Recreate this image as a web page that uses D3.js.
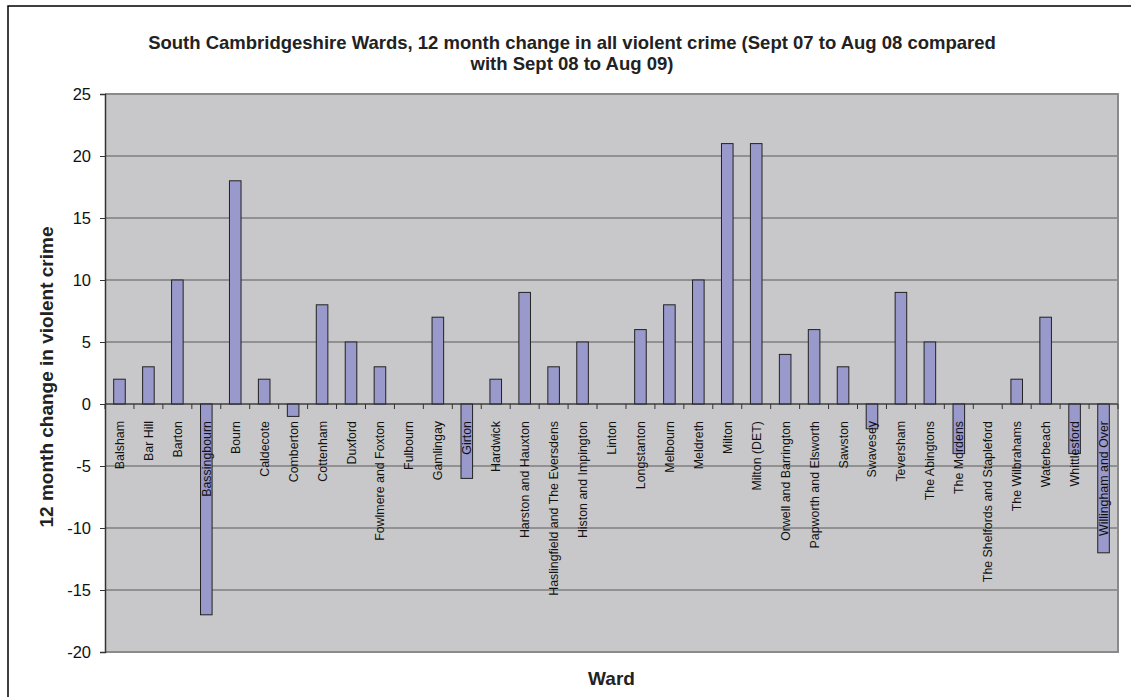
<!DOCTYPE html>
<html><head><meta charset="utf-8">
<script src="https://cdn.jsdelivr.net/npm/d3@7"></script>
<style>body{margin:0;background:#fff}svg{display:block}text{font-family:Arial,"Liberation Sans",sans-serif}</style>
</head><body><svg id="c" width="1131" height="697"></svg>
<script>
const wards = ["Balsham","Bar Hill","Barton","Bassingbourn","Bourn","Caldecote","Comberton","Cottenham","Duxford","Fowlmere and Foxton","Fulbourn","Gamlingay","Girton","Hardwick","Harston and Hauxton","Haslingfield and The Eversdens","Histon and Impington","Linton","Longstanton","Melbourn","Meldreth","Milton","Milton (DET)","Orwell and Barrington","Papworth and Elsworth","Sawston","Swavesey","Teversham","The Abingtons","The Mordens","The Shelfords and Stapleford","The Wilbrahams","Waterbeach","Whittlesford","Willingham and Over"];
const changes = [2,3,10,-17,18,2,-1,8,5,3,0,7,-6,2,9,3,5,0,6,8,10,21,21,4,6,3,-2,9,5,-4,0,2,7,-4,-12];
const yTicks = [-20,-15,-10,-5,0,5,10,15,20,25];
const titleLines = ["South Cambridgeshire Wards, 12 month change in all violent crime (Sept 07 to Aug 08 compared","with Sept 08 to Aug 09)"];
const yTitle = "12 month change in violent crime";
const xTitle = "Ward";

const svg = d3.select("#c");
const L=105,R=1118,T=94,B=652;
// outer frame
svg.append("rect").attr("x",8).attr("y",6).attr("width",1140).attr("height",720).attr("fill","#fff").attr("stroke","#000").attr("stroke-width",1.5);

const x = d3.scaleBand().domain(wards).range([L,R]).paddingInner(0.6).paddingOuter(0.3);
const y = d3.scaleLinear().domain([-20,25]).range([B,T]);

svg.append("rect").attr("x",L).attr("y",T).attr("width",R-L).attr("height",B-T).attr("fill","#c8c8ca");
// gridlines
svg.append("g").selectAll("line").data(yTicks.filter(d=>d!==-20&&d!==25)).join("line")
  .attr("x1",L).attr("x2",R).attr("y1",d=>y(d)).attr("y2",d=>y(d)).attr("stroke","#5a5a5a").attr("stroke-width",1);
// plot border top/right/bottom
svg.append("path").attr("d",`M${L},${T}H${R}V${B}H${L}`).attr("fill","none").attr("stroke","#8a8a8a").attr("stroke-width",2);

// bars
svg.append("g").selectAll("rect").data(wards).join("rect")
  .attr("x",d=>x(d)).attr("width",x.bandwidth())
  .attr("y",(d,i)=>y(Math.max(0,changes[i]))).attr("height",(d,i)=>Math.abs(y(changes[i])-y(0)))
  .attr("fill","#9999cc").attr("stroke","#222").attr("stroke-width",1);

// y axis
const ya = d3.axisLeft(y).tickValues(yTicks).tickSize(5).tickPadding(9).tickFormat(d=>String(d));
const yg = svg.append("g").attr("transform",`translate(${L},0)`).call(ya);
yg.select(".domain").attr("stroke","#333").attr("stroke-width",1.5);
yg.selectAll(".tick line").attr("stroke","#333");
yg.selectAll(".tick text").attr("font-size",16.5).attr("fill","#111").attr("font-family","Arial,'Liberation Sans',sans-serif");

// x axis at zero
const xg = svg.append("g").attr("transform",`translate(0,${y(0)})`);
xg.append("line").attr("x1",L).attr("x2",R).attr("stroke","#333").attr("stroke-width",1.2);
const bounds = d3.range(wards.length+1).map(i=>L+i*(R-L)/wards.length);
xg.selectAll("line.t").data(bounds).join("line").attr("class","t")
  .attr("x1",d=>d).attr("x2",d=>d).attr("y1",0).attr("y2",5).attr("stroke","#333");
xg.selectAll("text").data(wards).join("text")
  .attr("transform",d=>`translate(${x(d)+x.bandwidth()/2+4.5},17) rotate(-90)`)
  .attr("text-anchor","end").attr("font-size",12.4).attr("fill","#111").text(d=>d);

// titles
svg.append("text").attr("x",572).attr("text-anchor","middle").attr("font-weight","bold").attr("font-size",18.5).attr("fill","#222")
  .selectAll("tspan").data(titleLines).join("tspan").attr("x",572).attr("y",(d,i)=>49+i*21).text(d=>d);
svg.append("text").attr("transform",`translate(53,${377}) rotate(-90)`).attr("text-anchor","middle")
  .attr("font-weight","bold").attr("font-size",19).attr("fill","#222").text(yTitle);
svg.append("text").attr("x",(L+R)/2).attr("y",685).attr("text-anchor","middle").attr("font-weight","bold").attr("font-size",19).attr("fill","#222").text(xTitle);
</script></body></html>
